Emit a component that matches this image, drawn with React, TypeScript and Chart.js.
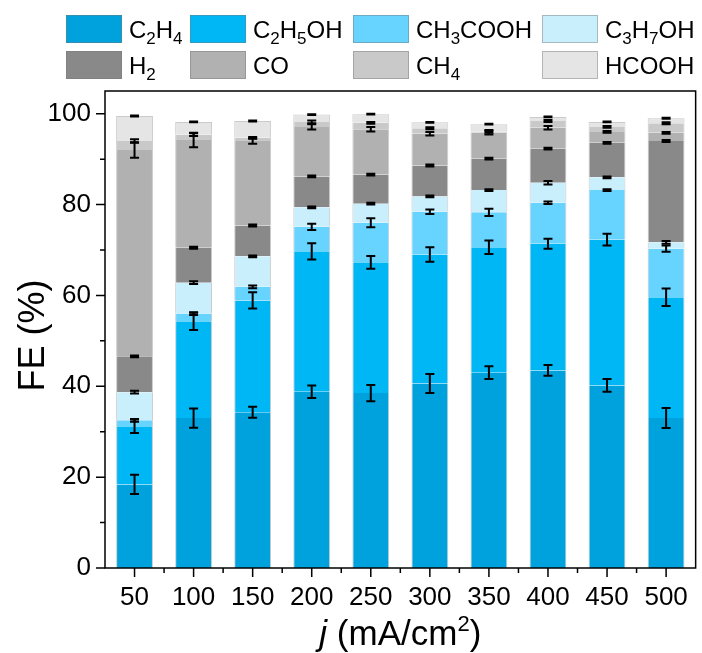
import React, { useEffect, useRef } from "react";
import { Chart, registerables } from "chart.js";

Chart.register(...registerables);

const categories = ["50", "100", "150", "200", "250", "300", "350", "400", "450", "500"];

const seriesNames = ["C2H4", "C2H5OH", "CH3COOH", "C3H7OH", "H2", "CO", "CH4", "HCOOH"];
const seriesColors = ["#00A2DD", "#00B7F5", "#67D3FF", "#C9EEFC", "#898989", "#B1B1B1", "#C9C9C9", "#E5E5E5"];

const C2H4 = [18.4, 33.0, 34.3, 38.8, 38.5, 40.6, 43.0, 43.5, 40.2, 33.0];
const C2H5OH = [12.8, 21.3, 24.6, 30.9, 28.8, 28.4, 27.6, 27.9, 32.1, 26.6];
const CH3COOH = [1.3, 1.7, 3.0, 5.4, 8.7, 9.4, 7.7, 9.0, 10.9, 10.7];
const C3H7OH = [6.2, 6.8, 6.7, 4.3, 4.2, 3.4, 4.9, 4.4, 2.8, 1.4];
const H2 = [7.9, 7.7, 6.8, 6.8, 6.4, 6.8, 6.9, 7.5, 7.6, 22.3];
const CO = [45.4, 23.7, 18.6, 10.9, 10.0, 7.0, 5.7, 4.6, 2.4, 1.8];
const CH4 = [2.0, 1.2, 0.7, 1.1, 1.4, 1.2, 0.3, 1.5, 1.1, 2.1];
const HCOOH = [5.5, 2.8, 3.7, 1.6, 1.9, 1.3, 1.6, 0.9, 1.1, 1.1];

const errC2H4 = [2.1, 2.1, 1.2, 1.4, 1.8, 2.1, 1.4, 1.2, 1.4, 2.2];
const errC2H5OH = [1.5, 1.9, 1.8, 1.8, 1.4, 1.6, 1.5, 1.1, 1.3, 1.9];
const errCH3COOH = [0.3, 0.3, 0.3, 0.7, 1.0, 0.5, 0.8, 0.3, 0.2, 0.7];
const errC3H7OH = [0.3, 0.3, 0.2, 0.2, 0.2, 0.2, 0.2, 0.4, 0.2, 0.3];
const errH2 = [0.2, 0.2, 0.2, 0.2, 0.2, 0.2, 0.2, 0.2, 0.2, 0.2];
const errCO = [1.7, 1.6, 0.6, 0.6, 0.5, 0.4, 0.4, 0.4, 0.2, 0.2];
const errCH4 = [0.4, 0.3, 0.2, 0.3, 0.2, 0.2, 0.3, 0.2, 0.2, 0.2];
const errHCOOH = [0.1, 0.1, 0.1, 0.1, 0.1, 0.1, 0.1, 0.1, 0.1, 0.1];

const yTickValues = [0, 20, 40, 60, 80, 100];
const yMinorValues = [10, 30, 50, 70, 90];

const seriesValues = [C2H4, C2H5OH, CH3COOH, C3H7OH, H2, CO, CH4, HCOOH];
const seriesErrors = [errC2H4, errC2H5OH, errCH3COOH, errC3H7OH, errH2, errCO, errCH4, errHCOOH];

const FONT = "'Liberation Sans', Arial, Helvetica, sans-serif";

function drawChem(ctx: CanvasRenderingContext2D, text: string, x: number, y: number, size: number, subSize: number, subDy: number) {
  const parts = text.match(/[0-9]+|[^0-9]+/g) || [];
  let cx = x;
  for (const p of parts) {
    const isNum = /^[0-9]+$/.test(p);
    ctx.font = `${isNum ? subSize : size}px ${FONT}`;
    ctx.fillText(p, cx, y + (isNum ? subDy : 0));
    cx += ctx.measureText(p).width;
  }
}

const legendPlugin = {
  id: "chemLegend",
  afterDraw(chart: any) {
    const ctx = chart.ctx as CanvasRenderingContext2D;
    const colX = [66, 190, 353, 542];
    const rowY = [15, 51];
    const boxW = 56;
    const boxH = 28;
    ctx.save();
    chart.data.datasets.forEach((ds: any, i: number) => {
      const col = i % 4;
      const row = Math.floor(i / 4);
      const bx = colX[col];
      const by = rowY[row];
      ctx.fillStyle = ds.backgroundColor;
      ctx.fillRect(bx, by, boxW, boxH);
      ctx.strokeStyle = "rgba(120,120,120,0.45)";
      ctx.lineWidth = 1;
      ctx.strokeRect(bx + 0.5, by + 0.5, boxW - 1, boxH - 1);
      ctx.fillStyle = "#000";
      ctx.textBaseline = "alphabetic";
      ctx.textAlign = "left";
      drawChem(ctx, ds.label, bx + boxW + 7, by + 23, 24, 17, 6);
    });
    ctx.restore();
  },
};

const frameAndTicksPlugin = {
  id: "frameTicks",
  afterDraw(chart: any) {
    const ctx = chart.ctx as CanvasRenderingContext2D;
    const { left, right, top, bottom } = chart.chartArea;
    const x = chart.scales.x;
    const y = chart.scales.y;
    ctx.save();
    ctx.strokeStyle = "#000";
    ctx.lineWidth = 1.5;
    ctx.strokeRect(left, top, right - left, bottom - top);
    ctx.beginPath();
    yTickValues.forEach((v) => {
      const py = y.getPixelForValue(v);
      ctx.moveTo(left, py);
      ctx.lineTo(left - 9, py);
    });
    yMinorValues.forEach((v) => {
      const py = y.getPixelForValue(v);
      ctx.moveTo(left, py);
      ctx.lineTo(left - 5, py);
    });
    const n = categories.length;
    for (let i = 0; i < n; i++) {
      const px = x.getPixelForValue(i);
      ctx.moveTo(px, bottom);
      ctx.lineTo(px, bottom + 9);
    }
    const step = (right - left) / n;
    for (let i = 1; i < n; i++) {
      const px = left + step * i;
      ctx.moveTo(px, bottom);
      ctx.lineTo(px, bottom + 5);
    }
    ctx.stroke();

    ctx.fillStyle = "#000";
    ctx.textBaseline = "alphabetic";
    ctx.save();
    ctx.translate(44, (top + bottom) / 2 + 6);
    ctx.rotate(-Math.PI / 2);
    ctx.textAlign = "center";
    ctx.font = `36px ${FONT}`;
    ctx.fillText("FE (%)", 0, 0);
    ctx.restore();

    const size = 35;
    const partJ = "j";
    const partA = " (mA/cm";
    const partSup = "2";
    const partB = ")";
    const supSize = Math.round(size * 0.62);
    ctx.font = `italic ${size}px ${FONT}`;
    const wJ = ctx.measureText(partJ).width;
    ctx.font = `${size}px ${FONT}`;
    const wA = ctx.measureText(partA).width;
    const wB = ctx.measureText(partB).width;
    ctx.font = `${supSize}px ${FONT}`;
    const wS = ctx.measureText(partSup).width;
    const total = wJ + wA + wS + wB;
    let cx = (left + right) / 2 - total / 2;
    const base = 645;
    ctx.textAlign = "left";
    ctx.font = `italic ${size}px ${FONT}`;
    ctx.fillText(partJ, cx, base);
    cx += wJ;
    ctx.font = `${size}px ${FONT}`;
    ctx.fillText(partA, cx, base);
    cx += wA;
    ctx.font = `${supSize}px ${FONT}`;
    ctx.fillText(partSup, cx, base - 14);
    cx += wS;
    ctx.font = `${size}px ${FONT}`;
    ctx.fillText(partB, cx, base);
    ctx.restore();
  },
};

const errorBarPlugin = {
  id: "errorBars",
  afterDatasetsDraw(chart: any) {
    const ctx = chart.ctx as CanvasRenderingContext2D;
    const y = chart.scales.y;
    ctx.save();
    ctx.strokeStyle = "#000";
    ctx.lineWidth = 2;
    const n = categories.length;
    for (let j = 0; j < n; j++) {
      let cum = 0;
      chart.data.datasets.forEach((ds: any, i: number) => {
        cum += ds.data[j];
        const meta = chart.getDatasetMeta(i);
        const el = meta.data[j];
        if (!el) return;
        const e = seriesErrors[i][j];
        const x = el.x;
        const y1 = y.getPixelForValue(cum + e);
        const y2 = y.getPixelForValue(cum - e);
        const cap = 4.5;
        ctx.beginPath();
        ctx.moveTo(x, y1);
        ctx.lineTo(x, y2);
        ctx.moveTo(x - cap, y1);
        ctx.lineTo(x + cap, y1);
        ctx.moveTo(x - cap, y2);
        ctx.lineTo(x + cap, y2);
        ctx.stroke();
      });
    }
    ctx.restore();
  },
};

export default function App() {
  const canvasRef = useRef<HTMLCanvasElement | null>(null);

  useEffect(() => {
    if (!canvasRef.current) return;
    const chart = new Chart(canvasRef.current, {
      type: "bar",
      data: {
        labels: categories,
        datasets: seriesNames.map((name, i) => ({
          label: name,
          data: seriesValues[i],
          backgroundColor: seriesColors[i],
          borderColor: "rgba(140,140,140,0.45)",
          borderWidth: { left: 1, right: 1, top: i === seriesNames.length - 1 ? 1 : 0, bottom: 0 },
          borderSkipped: false,
          categoryPercentage: 1,
          barPercentage: 0.624,
        })),
      },
      options: {
        animation: false,
        responsive: false,
        maintainAspectRatio: false,
        devicePixelRatio: 1,
        layout: { padding: { top: 91, right: 4, left: 0, bottom: 0 } },
        plugins: {
          legend: { display: false },
          tooltip: { enabled: false },
          title: { display: false },
        },
        scales: {
          x: {
            stacked: true,
            grid: { display: false, drawTicks: false },
            border: { display: false },
            ticks: {
              color: "#000",
              font: { family: FONT, size: 26 },
              padding: 14,
              maxRotation: 0,
              autoSkip: false,
            },
            afterFit: (s: any) => {
              s.height = 85;
            },
          },
          y: {
            stacked: true,
            min: 0,
            max: 105,
            grid: { display: false, drawTicks: false },
            border: { display: false },
            afterBuildTicks: (s: any) => {
              s.ticks = yTickValues.map((v) => ({ value: v }));
            },
            ticks: {
              color: "#000",
              font: { family: FONT, size: 26 },
              padding: 14,
              callback: (v: any) => String(v),
            },
            afterFit: (s: any) => {
              s.width = 105;
            },
          },
        },
      },
      plugins: [errorBarPlugin, frameAndTicksPlugin, legendPlugin],
    });
    return () => chart.destroy();
  }, []);

  return (
    <div style={{ position: "absolute", left: 0, top: 0, width: 702, height: 653, background: "#fff" }}>
      <canvas ref={canvasRef} width={702} height={653} style={{ width: 702, height: 653, display: "block" }} />
    </div>
  );
}
